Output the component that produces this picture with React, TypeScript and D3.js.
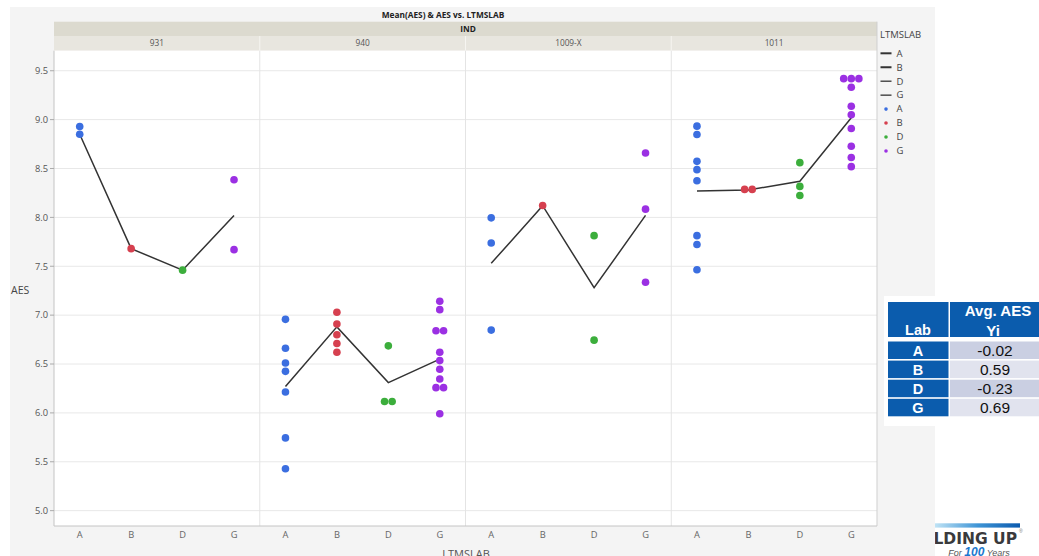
import React from "react";
import * as d3 from "d3";

// Facets and categories
const panels = ["931", "940", "1009-X", "1011"];
const labs = ["A", "B", "D", "G"];
const labColors = ["#3b6ee0", "#d6404f", "#3cae3c", "#9b30e3"];
const yTicks = [5.0, 5.5, 6.0, 6.5, 7.0, 7.5, 8.0, 8.5, 9.0, 9.5];

// AES observations, one list per lab (A, B, D, G), for each IND panel
const aes931 = [[8.93, 8.85], [7.68], [7.46], [8.385, 7.67]];
const aes940 = [
  [6.957, 6.662, 6.511, 6.425, 6.213, 5.744, 5.429],
  [7.03, 6.91, 6.8, 6.71, 6.62],
  [6.686, 6.117, 6.117],
  [7.142, 7.056, 6.84, 6.84, 6.621, 6.535, 6.446, 6.346, 6.258, 6.258, 5.991],
];
const aes1009 = [[7.995, 7.738, 6.847], [8.121], [7.813, 6.744], [8.659, 8.084, 7.337]];
const aes1011 = [
  [8.933, 8.848, 8.573, 8.488, 8.375, 7.813, 7.723, 7.464],
  [8.286, 8.286],
  [8.56, 8.317, 8.224],
  [9.419, 9.419, 9.419, 9.331, 9.136, 9.05, 8.909, 8.728, 8.612, 8.519],
];

// Mean(AES) per lab (A, B, D, G) for each IND panel
const mean931 = [8.85, 7.68, 7.46, 8.02];
const mean940 = [6.27, 6.88, 6.31, 6.55];
const mean1009 = [7.53, 8.12, 7.28, 8.02];
const mean1011 = [8.27, 8.28, 8.37, 9.02];

// Summary table
const tableLabs = ["A", "B", "D", "G"];
const avgYi = [-0.02, 0.59, -0.23, 0.69];

const panelPoints = [aes931, aes940, aes1009, aes1011];
const panelMeans = [mean931, mean940, mean1009, mean1011];

const W = 1039;
const H = 556;
const plot = { left: 54, right: 877, top: 50.7, bottom: 526 };
const uiFont = "'Open Sans', 'Noto Sans', sans-serif";
const tableFont = "'Liberation Sans', Arial, sans-serif";
const logoFont = "'DejaVu Sans', sans-serif";

export default function App() {
  const y = d3.scaleLinear().domain([4.843, 9.705]).range([plot.bottom, plot.top]);
  const xPanel = d3.scaleBand<string>().domain(panels).range([plot.left, plot.right]).padding(0);
  const xLab = d3.scaleBand<string>().domain(labs).range([0, xPanel.bandwidth()]).padding(0);
  const cx = (p: string, l: string) => (xPanel(p) ?? 0) + (xLab(l) ?? 0) + xLab.bandwidth() / 2;
  const meanLine = d3
    .line<[number, number]>()
    .x((d) => d[0])
    .y((d) => d[1]);
  const fmt1 = d3.format(".1f");
  const fmt2 = (v: number) => v.toFixed(2);

  // points with identical values are placed side by side
  const dots: { x: number; y: number; c: string; k: string }[] = [];
  panels.forEach((p, pi) => {
    labs.forEach((l, li) => {
      const vals = panelPoints[pi][li];
      const groups = d3.group(vals, (v) => v.toFixed(3));
      groups.forEach((g, key) => {
        const n = g.length;
        g.forEach((v, j) => {
          const off = (j - (n - 1) / 2) * 7.6;
          dots.push({ x: cx(p, l) + off, y: y(v), c: labColors[li], k: `${p}-${l}-${key}-${j}` });
        });
      });
    });
  });

  const legendRows = [
    ...labs.map((l, i) => ({ kind: "line", l, i })),
    ...labs.map((l, i) => ({ kind: "dot", l, i })),
  ];

  const tableX = 888;
  const valX = 950;
  const rowTop = 341.5;
  const rowStep = 19.1;

  return (
    <svg
      width={W}
      height={H}
      viewBox={`0 0 ${W} ${H}`}
      style={{ position: "fixed", left: 0, top: 0, background: "#fff" }}
    >
      <defs>
        <linearGradient id="logoBar" x1="0" x2="1" y1="0" y2="0">
          <stop offset="0" stopColor="#bfe3f5" />
          <stop offset="0.5" stopColor="#3f95d6" />
          <stop offset="1" stopColor="#0b5aae" />
        </linearGradient>
      </defs>
      <rect x={0} y={0} width={W} height={H} fill="#fff" />

      {/* logo (partly behind the report frame) */}
      <rect x={935} y={523.3} width={85} height={4.3} fill="url(#logoBar)" />
      <text
        x={1017}
        y={543.5}
        textAnchor="end"
        fontFamily={logoFont}
        fontWeight="bold"
        fontSize={15.5}
        fill="#3a3a3c"
      >
        BUILDING UP
      </text>
      <text x={1019} y={533} fontFamily={tableFont} fontSize={5} fill="#777">
        ®
      </text>
      <text x={979} y={555.5} textAnchor="middle" fontFamily={tableFont} fontStyle="italic" fill="#555">
        <tspan fontSize={9}>For </tspan>
        <tspan fontSize={12} fontWeight="bold" fill="#1b78cf">
          100
        </tspan>
        <tspan fontSize={9}> Years</tspan>
      </text>

      {/* report frame */}
      <rect x={10} y={7} width={925} height={H - 7} fill="#f4f4f4" />

      {/* title and facet header bands */}
      <text
        x={443}
        y={17.5}
        textAnchor="middle"
        fontFamily={uiFont}
        fontWeight="bold"
        fontSize={8.3}
        fill="#222"
      >
        Mean(AES) &amp; AES vs. LTMSLAB
      </text>
      <rect x={plot.left} y={21.7} width={plot.right - plot.left} height={14.3} fill="#dcdacf" />
      <text
        x={468}
        y={32}
        textAnchor="middle"
        fontFamily={uiFont}
        fontWeight="bold"
        fontSize={8.3}
        fill="#222"
      >
        IND
      </text>
      <rect x={plot.left} y={36} width={plot.right - plot.left} height={plot.top - 36} fill="#e8e6df" />
      {panels.map((p) => (
        <g key={`hdr-${p}`}>
          {p !== panels[0] && (
            <line
              x1={xPanel(p)}
              x2={xPanel(p)}
              y1={36}
              y2={plot.top}
              stroke="#f6f5f1"
              strokeWidth={1}
            />
          )}
          <text
            x={(xPanel(p) ?? 0) + xPanel.bandwidth() / 2}
            y={45.5}
            textAnchor="middle"
            fontFamily={uiFont}
            fontSize={8.3}
            fill="#555"
          >
            {p}
          </text>
        </g>
      ))}

      {/* plot area */}
      <rect
        x={plot.left}
        y={plot.top}
        width={plot.right - plot.left}
        height={plot.bottom - plot.top}
        fill="#fff"
      />
      {yTicks.map((t) => (
        <line
          key={`g-${t}`}
          x1={plot.left}
          x2={plot.right}
          y1={y(t)}
          y2={y(t)}
          stroke="#e8e8e8"
          strokeWidth={1}
        />
      ))}
      {panels.slice(1).map((p) => (
        <line
          key={`pd-${p}`}
          x1={xPanel(p)}
          x2={xPanel(p)}
          y1={plot.top}
          y2={plot.bottom}
          stroke="#e4e4e4"
          strokeWidth={1}
        />
      ))}
      <line x1={plot.left} x2={plot.left} y1={plot.top} y2={plot.bottom} stroke="#c4c4c4" />
      <line x1={plot.right} x2={plot.right} y1={21.7} y2={plot.bottom} stroke="#cfcfcf" />
      <line x1={plot.left} x2={plot.right} y1={plot.bottom} y2={plot.bottom} stroke="#c4c4c4" />

      {/* y axis */}
      {yTicks.map((t) => (
        <g key={`yt-${t}`}>
          <line x1={plot.left - 4} x2={plot.left} y1={y(t)} y2={y(t)} stroke="#aaa" />
          <text
            x={plot.left - 6}
            y={y(t)}
            dy="0.35em"
            textAnchor="end"
            fontFamily={uiFont}
            fontSize={9.3}
            fill="#555"
          >
            {fmt1(t)}
          </text>
        </g>
      ))}
      <text x={11} y={294} fontFamily={uiFont} fontSize={10.5} fill="#444">
        AES
      </text>

      {/* x axis */}
      {panels.map((p) =>
        labs.map((l) => (
          <text
            key={`xt-${p}-${l}`}
            x={cx(p, l)}
            y={538.3}
            textAnchor="middle"
            fontFamily={uiFont}
            fontSize={9.3}
            fill="#666"
          >
            {l}
          </text>
        ))
      )}
      <text x={466} y={557.5} textAnchor="middle" fontFamily={uiFont} fontSize={11} fill="#555">
        LTMSLAB
      </text>

      {/* mean lines, one per panel */}
      {panels.map((p, pi) => (
        <path
          key={`ml-${p}`}
          d={meanLine(labs.map((l, li) => [cx(p, l), y(panelMeans[pi][li])] as [number, number])) ?? ""}
          fill="none"
          stroke="#333"
          strokeWidth={1.5}
        />
      ))}

      {/* observations */}
      {dots.map((d) => (
        <circle key={d.k} cx={d.x} cy={d.y} r={3.8} fill={d.c} />
      ))}

      {/* legend */}
      <text x={880} y={38} fontFamily={uiFont} fontSize={9.5} fill="#444">
        LTMSLAB
      </text>
      {legendRows.map((r, k) => {
        const ly = 53.3 + k * 13.95;
        return (
          <g key={`lg-${k}`}>
            {r.kind === "line" ? (
              <line
                x1={880.5}
                x2={891.5}
                y1={ly}
                y2={ly}
                stroke="#333"
                strokeWidth={r.i < 2 ? 2 : 1.3}
              />
            ) : (
              <circle cx={886} cy={ly} r={1.8} fill={labColors[r.i]} />
            )}
            <text x={896.5} y={ly} dy="0.35em" fontFamily={uiFont} fontSize={9.5} fill="#444">
              {r.l}
            </text>
          </g>
        );
      })}

      {/* summary table */}
      <rect x={884} y={296} width={W - 884} height={130} fill="#fff" />
      <rect x={tableX} y={302} width={60.5} height={35} fill="#0b5cad" />
      <rect x={valX} y={302} width={95} height={35} fill="#0b5cad" />
      <text
        x={tableX + 30}
        y={335}
        textAnchor="middle"
        fontFamily={tableFont}
        fontWeight="bold"
        fontSize={14.5}
        fill="#fff"
      >
        Lab
      </text>
      <text
        x={998}
        y={315.5}
        textAnchor="middle"
        fontFamily={tableFont}
        fontWeight="bold"
        fontSize={15}
        fill="#fff"
      >
        Avg. AES
      </text>
      <text
        x={993}
        y={335.5}
        textAnchor="middle"
        fontFamily={tableFont}
        fontWeight="bold"
        fontSize={15}
        fill="#fff"
      >
        Yi
      </text>
      {tableLabs.map((l, i) => {
        const ry = rowTop + i * rowStep;
        return (
          <g key={`row-${l}`}>
            <rect x={tableX} y={ry} width={60.5} height={17.5} fill="#0b5cad" />
            <rect
              x={valX}
              y={ry}
              width={95}
              height={17.5}
              fill={i % 2 === 0 ? "#cacfe2" : "#e1e3ee"}
            />
            <text
              x={tableX + 30}
              y={ry + 14.5}
              textAnchor="middle"
              fontFamily={tableFont}
              fontWeight="bold"
              fontSize={14.5}
              fill="#fff"
            >
              {l}
            </text>
            <text
              x={995}
              y={ry + 14.5}
              textAnchor="middle"
              fontFamily={tableFont}
              fontSize={15.5}
              fill="#111"
            >
              {fmt2(avgYi[i])}
            </text>
          </g>
        );
      })}
    </svg>
  );
}
